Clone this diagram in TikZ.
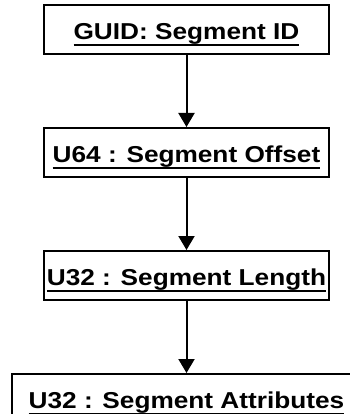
\documentclass[tikz,border=0pt]{standalone}
\usepackage{fontspec}
\usepackage{tikz}
\usetikzlibrary{arrows.meta, positioning}
\newfontfamily\fieldfont{Liberation Sans}
\newcommand\fieldul[1]{\setbox0=\hbox{\scalebox{1.14}[1]{#1}}\rlap{\copy0}\rule[-6.3pt]{\wd0}{2pt}}
\definecolor{blkline}{HTML}{000000}
\definecolor{blkfill}{HTML}{FFFFFF}
\tikzset{
  fieldblk/.style = {rectangle, draw=blkline, fill=blkfill, line width=2pt,
                     align=center, font=\fieldfont\bfseries\fontsize{23}{26}\selectfont,
                     minimum width=285pt, minimum height=49pt, inner sep=2pt,
                     text height=27pt, text depth=6.3pt},
  flow/.style     = {-{Triangle[length=14pt, width=16pt]}, line width=2pt, draw=blkline},
}
\begin{document}
\begin{tikzpicture}[node distance=72pt]
        \useasboundingbox (0,0) rectangle (349pt,-414pt);
        \node[fieldblk] (guid) at (186.5pt,-29.5pt) {\fieldul{GUID: Segment ID}};
        \node[fieldblk, below=of guid]   (offset) {\fieldul{U64 : Segment Offset}};
        \node[fieldblk, below=of offset] (length) {\fieldul{U32 : Segment Length}};
        \node[fieldblk, minimum width=350pt, below=of length] (attrs) {\fieldul{U32 : Segment Attributes}};
        \foreach \a/\b in {guid/offset, offset/length, length/attrs}{\draw[flow] (\a) -- (\b);}
    \end{tikzpicture}
\end{document}
